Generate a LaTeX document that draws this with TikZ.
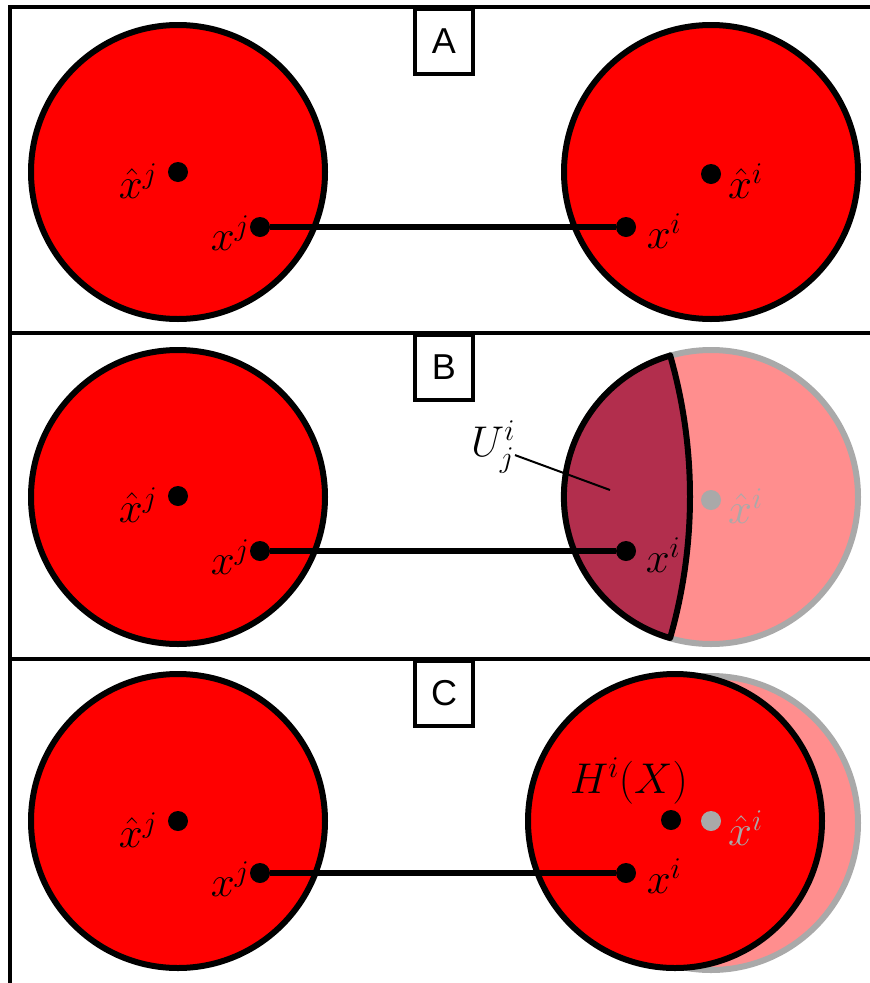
\RequirePackage{fix-cm}
\documentclass[tikz,border=0pt]{standalone}
\usepackage{fontspec}
\setsansfont{Liberation Sans}
\usetikzlibrary{positioning}
\definecolor{ballred}{HTML}{FF0000}
\definecolor{ghostpink}{HTML}{FF8E8E}
\definecolor{lensred}{HTML}{B22E4D}
\definecolor{ghostgray}{HTML}{A9A9A9}

\begin{document}
\begin{tikzpicture}[x=1pt, y=-1pt,
    every node/.style={inner sep=0pt},
    panel/.style={line width=4pt},
    tag/.style={rectangle, draw, line width=4pt, fill=white, anchor=north,
                minimum width=58pt, minimum height=65pt,
                font=\sffamily\fontsize{36}{40}\selectfont},
    ball/.style={draw, line width=6pt, fill=ballred},
    ghost/.style={draw=ghostgray, line width=6pt, fill=ghostpink},
    lens/.style={draw, line width=6pt, line join=round, fill=lensred},
    dot/.style={circle, fill=black, minimum size=20pt},
    gdot/.style={circle, fill=ghostgray, minimum size=20pt},
    lbl/.style={font=\fontsize{43}{50}\selectfont},
    link/.style={line width=6pt},
    lead/.style={line width=2pt}
]
    \useasboundingbox (0,0) rectangle (870,983);

    % frame
    \draw[panel] (870,6.5) -- (10,6.5) -- (10,983);
    \draw[panel] (10,332.5) -- (870,332.5);
    \draw[panel] (10,659) -- (870,659);

    % A
    \draw[ball] (178,172) circle[radius=147];
    \draw[ball] (711,172) circle[radius=147];
    \node[dot] (hxjA) at (178,172) {};
    \node[dot] (xjA) at (260,227) {};
    \node[dot] (xiA) at (626,227) {};
    \node[dot] (hxiA) at (711,174) {};
    \draw[link] (xjA) -- (xiA);
    \node[lbl] (lhxjA) at (138,181) {$\hat{x}^j$};
    \node[lbl] (lxjA) at (230,233) {$x^j$};
    \node[lbl] (lxiA) at (664,231) {$x^i$};
    \node[lbl, anchor=west] (lhxiA) at (728,181) {$\hat{x}^i$};
    \node[tag] (tagA) at (444,6.5) {A};

    % B
    \draw[ball] (178,497) circle[radius=147];
    \draw[ghost] (711,497) circle[radius=147];
    \draw[lens] (670.1,355.6) arc[start angle=253.87, end angle=106.13, radius=147]
        arc[start angle=16.03, end angle=-16.03, radius=512] -- cycle;
    \node[dot] (hxjB) at (178,496) {};
    \node[dot] (xjB) at (260,551) {};
    \node[dot] (xiB) at (626,551) {};
    \node[gdot] (hxiB) at (711,500) {};
    \draw[link] (xjB) -- (xiB);
    \node[lbl] (lhxjB) at (138,505) {$\hat{x}^j$};
    \node[lbl] (lxjB) at (230,557) {$x^j$};
    \node[lbl] (lxiB) at (663,555) {$x^i$};
    \node[lbl, anchor=west, text=ghostgray] (lhxiB) at (728,506) {$\hat{x}^i$};
    \node[lbl] (lUB) at (493,447) {$U_j^i$};
    \coordinate (uB) at (610,490);
    \draw[lead] (lUB) -- (uB);
    \node[tag] (tagB) at (444,332.5) {B};

    % C
    \draw[ball] (178,821) circle[radius=147];
    \draw[ghost] (711,823) circle[radius=147];
    \draw[ball] (675,821) circle[radius=147];
    \node[dot] (hxjC) at (178,821) {};
    \node[dot] (xjC) at (260,873) {};
    \node[dot] (xiC) at (626,873) {};
    \node[dot] (hC) at (671,820) {};
    \node[gdot] (hxiC) at (711,821) {};
    \draw[link] (xjC) -- (xiC);
    \node[lbl] (lhxjC) at (138,830) {$\hat{x}^j$};
    \node[lbl] (lxjC) at (230,879) {$x^j$};
    \node[lbl] (lxiC) at (664,876) {$x^i$};
    \node[lbl, anchor=west, text=ghostgray] (lhxiC) at (728,828) {$\hat{x}^i$};
    \node[lbl] (lhC) at (629,781) {$H^i(X)$};
    \node[tag] (tagC) at (444,659) {C};
\end{tikzpicture}
\end{document}
